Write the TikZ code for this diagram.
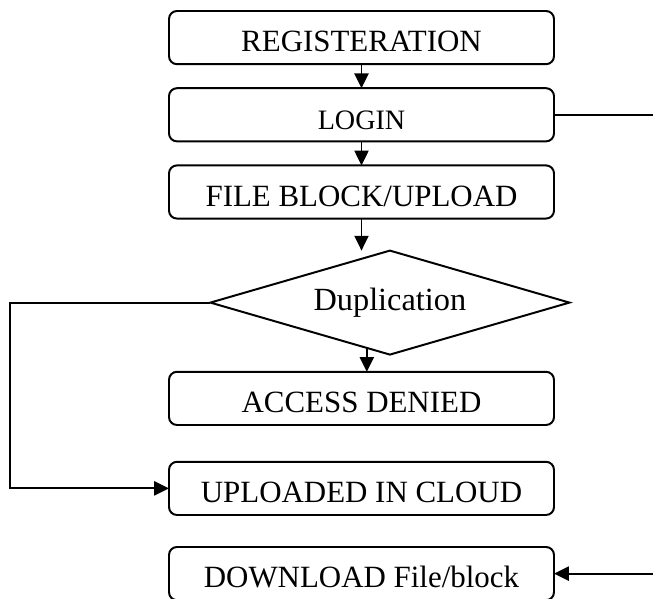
\documentclass[tikz,border=0pt]{standalone}
\usepackage{fontspec}
\setmainfont{Liberation Serif}
\usepackage{tikz}
\usetikzlibrary{positioning}
\usetikzlibrary{shapes.geometric}
\usetikzlibrary{arrows.meta}

\tikzset{
  box/.style={draw, rounded corners=0.2cm, minimum width=9.625cm, minimum height=1.33cm,
    inner sep=0pt, outer sep=0pt, text height=0.72cm, text depth=0pt,
    font=\fontsize{22}{26}\selectfont},
  decision/.style={draw, diamond, aspect=3.45, minimum width=8.975cm, minimum height=2.6cm,
    inner sep=0pt, outer sep=0pt, font=\fontsize{23}{27}\selectfont},
  arr/.style={-{Triangle[length=10.5pt,width=10pt]}}
}

\begin{document}
\begin{tikzpicture}[line width=1.4pt]
\useasboundingbox (0,0) rectangle (16.325,14.975);
\node[box] (reg) at (9.0375,14.035) {REGISTERATION};
\node[box, below=0.6cm of reg, font=\fontsize{20}{24}\selectfont] (login) {LOGIN};
\node[box, below=0.6cm of login] (upload) {FILE BLOCK/UPLOAD};
\node[decision, below=0.8cm of upload, xshift=0.71cm] (dup) {Duplication};
\node[box, below=0.43cm of dup.south -| upload] (denied) {ACCESS DENIED};
\node[box, below=0.92cm of denied] (cloud) {UPLOADED IN CLOUD};
\node[box, below=0.8cm of cloud] (download) {DOWNLOAD File/block};
\coordinate (dlin) at ([xshift=2.6cm]download.east);

\draw[arr] (reg) -- (login);
\draw[arr] (login) -- (upload);
\draw[arr] (upload) -- (upload |- dup.north);
\draw[arr] (dup.243) -- (dup.243 |- denied.north);
\draw[arr] (dup.west) -- ++(-5cm,0) |- (cloud.west);
\draw (login.east) -- ++(2.6cm,0);
\draw[arr] (dlin) -- (download.east);
\end{tikzpicture}
\end{document}
